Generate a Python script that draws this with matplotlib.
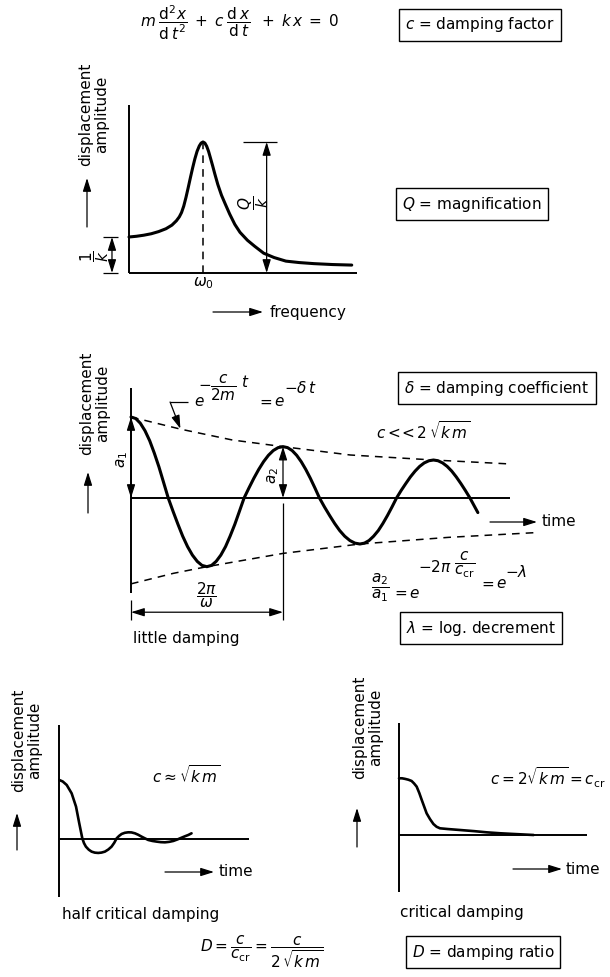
import matplotlib.pyplot as plt

plt.rcParams['font.family'] = 'DejaVu Sans'
plt.rcParams['mathtext.fontset'] = 'dejavusans'
plt.rcParams['font.size'] = 11

W, H = 610, 977

# resonance curve: frequency in units of omega_0, amplitude in units of 1/k
freq = [0.0, 0.10, 0.20, 0.30, 0.40, 0.50, 0.58, 0.64, 0.68, 0.71, 0.74, 0.77,
        0.80, 0.83, 0.86, 0.89, 0.92, 0.95, 0.975, 1.0, 1.025, 1.05, 1.075, 1.10,
        1.13, 1.16, 1.20, 1.25, 1.30, 1.36, 1.43, 1.50, 1.60, 1.70, 1.82, 1.96,
        2.12, 2.30, 2.50, 2.75, 3.01]
amp = [1.00, 1.02, 1.05, 1.09, 1.15, 1.23, 1.33, 1.45, 1.56, 1.68, 1.86, 2.10,
       2.37, 2.65, 2.92, 3.17, 3.38, 3.53, 3.61, 3.64, 3.61, 3.52, 3.38, 3.20,
       2.98, 2.75, 2.46, 2.16, 1.92, 1.64, 1.35, 1.13, 0.91, 0.74, 0.55, 0.43,
       0.33, 0.29, 0.26, 0.235, 0.22]

# little damping: time in periods (2pi/omega), displacement in units of a1
t_osc = [0.000, 0.031, 0.061, 0.092, 0.123, 0.153, 0.184, 0.214, 0.245,
         0.277, 0.309, 0.340, 0.372, 0.404, 0.436, 0.467, 0.499,
         0.530, 0.560, 0.591, 0.622, 0.652, 0.683, 0.713, 0.744,
         0.776, 0.808, 0.840, 0.872, 0.904, 0.936, 0.968, 1.000,
         1.030, 1.060, 1.090, 1.120, 1.150, 1.180, 1.210, 1.240,
         1.273, 1.307, 1.340, 1.373, 1.406, 1.440, 1.473, 1.506,
         1.536, 1.566, 1.596, 1.627, 1.657, 1.687, 1.717, 1.747,
         1.777, 1.808, 1.838, 1.869, 1.899, 1.929, 1.960, 1.990,
         2.020, 2.050, 2.080, 2.110, 2.140, 2.170, 2.200, 2.230,
         2.256, 2.282]
x_osc = [1.000, 0.981, 0.924, 0.831, 0.707, 0.556, 0.383, 0.195, 0.000,
         -0.166, -0.325, -0.471, -0.600, -0.705, -0.783, -0.832, -0.848,
         -0.832, -0.783, -0.705, -0.600, -0.471, -0.325, -0.166, 0.000,
         0.124, 0.243, 0.352, 0.448, 0.527, 0.586, 0.622, 0.634,
         0.622, 0.586, 0.527, 0.448, 0.352, 0.243, 0.124, 0.000,
         -0.111, -0.217, -0.315, -0.402, -0.472, -0.525, -0.557, -0.568,
         -0.557, -0.525, -0.472, -0.402, -0.315, -0.217, -0.111, 0.000,
         0.092, 0.179, 0.260, 0.332, 0.390, 0.433, 0.460, 0.469,
         0.460, 0.433, 0.390, 0.332, 0.260, 0.179, 0.092, 0.000,
         -0.090, -0.180]
t_env_up = [0.0, 0.331, 0.667, 1.0, 1.442, 1.990, 2.496]
x_env_up = [1.0, 0.848, 0.716, 0.634, 0.531, 0.469, 0.420]
t_env_lo = [0.0, 0.279, 0.499, 1.003, 1.506, 2.088, 2.656]
x_env_lo = [-1.06, -0.930, -0.848, -0.683, -0.568, -0.486, -0.428]
period = 1.0

# half critical damping
t_half = [0.0, 0.018, 0.039, 0.065, 0.088, 0.105, 0.121, 0.130, 0.140, 0.155,
          0.170, 0.187, 0.205, 0.222, 0.240, 0.258, 0.275, 0.289, 0.302, 0.315,
          0.328, 0.345, 0.363, 0.380, 0.398, 0.415, 0.433, 0.450, 0.468, 0.490,
          0.512, 0.534, 0.556, 0.578, 0.600, 0.622, 0.644, 0.662, 0.679, 0.696]
x_half = [1.0, 0.975, 0.916, 0.775, 0.551, 0.270, 0.017, -0.065, -0.124, -0.175,
          -0.208, -0.225, -0.230, -0.224, -0.208, -0.172, -0.124, -0.060, 0.017, 0.058,
          0.090, 0.110, 0.118, 0.116, 0.101, 0.077, 0.045, 0.017, -0.011, -0.028,
          -0.039, -0.048, -0.051, -0.043, -0.028, -0.002, 0.028, 0.052, 0.073, 0.101]

# critical damping
t_crit = [0.0, 0.016, 0.032, 0.050, 0.067, 0.080, 0.094, 0.108, 0.121, 0.134,
          0.147, 0.165, 0.183, 0.200, 0.218, 0.260, 0.325, 0.400, 0.467, 0.540,
          0.609, 0.716]
x_crit = [1.0, 1.0, 0.99, 0.975, 0.953, 0.91, 0.853, 0.74, 0.618, 0.50,
          0.382, 0.28, 0.194, 0.145, 0.118, 0.105, 0.088, 0.068, 0.047, 0.030,
          0.018, 0.0]

fig = plt.figure(figsize=(W / 100, H / 100), dpi=100)


def panel(ox, oy, sx, sy):
    # transparent axes over the whole page, data origin at pixel (ox, oy)
    ax = fig.add_axes([0, 0, 1, 1])
    ax.set_xlim(-ox / sx, (W - ox) / sx)
    ax.set_ylim((oy - H) / sy, oy / sy)
    ax.axis('off')
    return ax


def arrow(ax, p0, p1, style='-|>', lw=0.9):
    ax.annotate('', xy=p1, xytext=p0,
                arrowprops=dict(arrowstyle=style + ',head_length=0.8,head_width=0.25',
                                color='k', lw=lw, shrinkA=0, shrinkB=0, mutation_scale=10))


def line(ax, xs, ys, lw=1.4, **kw):
    ax.plot(xs, ys, color='k', lw=lw, solid_capstyle='butt', **kw)


dash = (0, (5, 4))
box = dict(boxstyle='square,pad=0.4', fc='white', ec='black', lw=1.0)
curve = dict(lw=2.2, solid_joinstyle='round', solid_capstyle='round')
label2 = 'displacement\namplitude'

page = panel(0, 0, 1, -1)

# ---- header
page.text(140, 23, r'$m\;\dfrac{\mathrm{d}^2x}{\mathrm{d}\,t^2}\;+\;c\;\dfrac{\mathrm{d}\,x}{\mathrm{d}\,t}\;\;+\;k\,x\;=\;0$',
          ha='left', va='center')
page.text(480, 25, r'$c$ = damping factor', ha='center', va='center', bbox=box)

# ---- resonance
p1 = panel(129, 273, 74, 36)
line(p1, [0, 0], [0, 4.67])
line(p1, [0, 3.08], [0, 0])
p1.plot(freq, amp, color='k', **curve)
peak = max(amp)
f0 = freq[amp.index(peak)]
line(p1, [f0, f0], [0, peak], lw=1.1, ls=dash)
p1.text(f0, -0.28, r'$\omega_0$', ha='center', va='center')
arrow(p1, (1.86, 0), (1.86, peak), '<|-|>')
line(p1, [1.54, 2.0], [peak, peak], lw=0.9)
p1.text(1.68, 1.94, r'$\dfrac{Q}{k}$', rotation=90, ha='center', va='center')
arrow(p1, (-0.23, 0), (-0.23, amp[0]), '<|-|>')
line(p1, [-0.35, -0.15], [amp[0], amp[0]], lw=0.9)
line(p1, [-0.35, -0.15], [0, 0], lw=0.9)
p1.text(-0.46, 0.48, r'$\dfrac{1}{k}$', rotation=90, ha='center', va='center')

page.text(94, 114, label2, rotation=90, ha='center', va='center', linespacing=1.1)
arrow(page, (87, 227), (87, 178))
arrow(page, (213, 312), (263, 312))
page.text(270, 312, 'frequency', ha='left', va='center')
page.text(472, 204, r'$Q$ = magnification', ha='center', va='center', bbox=box)

# ---- little damping
p2 = panel(131, 498, 152, 81)
line(p2, [0, 0], [1.354, -1.17])
line(p2, [0, 2.496], [0, 0])
p2.plot(t_osc, x_osc, color='k', **curve)
p2.plot(t_env_up, x_env_up, color='k', lw=1.1, ls=dash)
p2.plot(t_env_lo, x_env_lo, color='k', lw=1.1, ls=dash)
a1 = x_osc[0]
a2 = x_osc[t_osc.index(period)]
arrow(p2, (0, 0), (0, a1), '<|-|>')
p2.text(-0.06, 0.47, r'$a_1$', rotation=90, ha='center', va='center')
arrow(p2, (period, 0), (period, a2), '<|-|>')
p2.text(period - 0.065, 0.28, r'$a_2$', rotation=90, ha='center', va='center')
line(p2, [0, 0], [-1.26, -1.51], lw=0.9)
line(p2, [period, period], [-0.06, -1.51], lw=0.9)
arrow(p2, (0, -1.41), (period, -1.41), '<|-|>')
p2.text(period / 2, -1.2, r'$\dfrac{2\pi}{\omega}$', ha='center', va='center')
# leader to the upper envelope
line(p2, [0.257, 0.375], [1.185, 1.185], lw=0.9)
arrow(p2, (0.257, 1.185), (0.325, 0.855))

page.text(194, 402, r'$e$', ha='left', va='center')
page.text(198, 384, r'$-$', ha='left', va='center')
page.text(223, 388, r'$\dfrac{c}{2m}$', ha='center', va='center')
page.text(241, 382, r'$t$', ha='left', va='center')
page.text(257, 401, r'$=$', ha='left', va='center')
page.text(274, 402, r'$e$', ha='left', va='center')
page.text(284, 388, r'$-\delta\,t$', ha='left', va='center')
page.text(497, 388, r'$\delta$ = damping coefficient', ha='center', va='center', bbox=box)
page.text(470, 431, r'$c<\!\!<2\,\sqrt{k\,m}$', ha='right', va='center')

page.text(95, 403, label2, rotation=90, ha='center', va='center', linespacing=1.1)
arrow(page, (88, 513), (88, 472))
arrow(page, (490, 522), (537, 522))
page.text(542, 522, 'time', ha='left', va='center')

page.text(380, 588, r'$\dfrac{a_2}{a_1}$', ha='center', va='center')
page.text(392, 592, r'$=$', ha='left', va='center')
page.text(409, 593, r'$e$', ha='left', va='center')
page.text(418, 567, r'$-2\pi$', ha='left', va='center')
page.text(465, 565, r'$\dfrac{c}{c_{\mathrm{cr}}}$', ha='center', va='center')
page.text(479, 583, r'$=$', ha='left', va='center')
page.text(496, 584, r'$e$', ha='left', va='center')
page.text(505, 572, r'$-\lambda$', ha='left', va='center')
page.text(133, 639, 'little damping', ha='left', va='center')
page.text(481, 628, r'$\lambda$ = log. decrement', ha='center', va='center', bbox=box)

# ---- half critical damping
p3 = panel(59.3, 839.3, 190, 59.3)
line(p3, [0, 0], [1.93, -0.97])
line(p3, [0, 1.0], [0, 0])
p3.plot(t_half, x_half, color='k', lw=1.9, solid_joinstyle='round', solid_capstyle='round')
page.text(27, 740, label2, rotation=90, ha='center', va='center', linespacing=1.1)
arrow(page, (17, 850), (17, 813))
page.text(152, 775, r'$c\approx\sqrt{k\,m}$', ha='left', va='center')
arrow(page, (165, 872), (214, 872))
page.text(219, 872, 'time', ha='left', va='center')
page.text(62, 915, 'half critical damping', ha='left', va='center')

# ---- critical damping
p4 = panel(399, 835, 188, 56.7)
line(p4, [0, 0], [1.97, -1.0])
line(p4, [0, 1.0], [0, 0])
p4.plot(t_crit, x_crit, color='k', lw=1.9, solid_joinstyle='round', solid_capstyle='round')
page.text(368, 727, label2, rotation=90, ha='center', va='center', linespacing=1.1)
arrow(page, (357, 847), (357, 808))
page.text(606, 778, r'$c=2\sqrt{k\,m}=c_{\mathrm{cr}}$', ha='right', va='center')
arrow(page, (513, 869), (562, 869))
page.text(566, 869, 'time', ha='left', va='center')
page.text(400, 913, 'critical damping', ha='left', va='center')

# ---- footer
page.text(200, 952, r'$D=\dfrac{c}{c_{\mathrm{cr}}}=\dfrac{c}{2\,\sqrt{k\,m}}$', ha='left', va='center')
page.text(483, 952, r'$D$ = damping ratio', ha='center', va='center', bbox=box)

fig.savefig('out.png', dpi=100, facecolor='white')
